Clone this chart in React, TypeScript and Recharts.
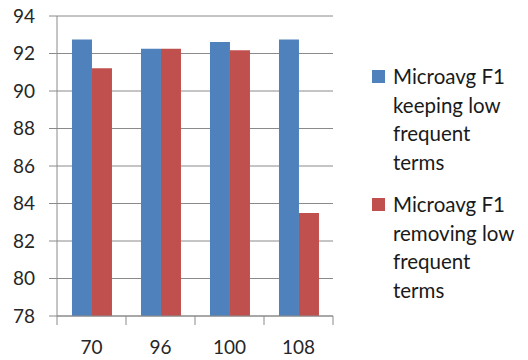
import { BarChart, Bar, XAxis, YAxis, CartesianGrid } from 'recharts';

const categories = ['70', '96', '100', '108'];
const keepingLow = [92.75, 92.25, 92.62, 92.75];
const removingLow = [91.22, 92.25, 92.18, 83.5];
const yTicks = [78, 80, 82, 84, 86, 88, 90, 92, 94];

const seriesNames = {
  keep: 'Microavg F1 keeping low frequent terms',
  remove: 'Microavg F1 removing low frequent terms',
};

const legendLines = {
  keep: ['Microavg F1', 'keeping low', 'frequent', 'terms'],
  remove: ['Microavg F1', 'removing low', 'frequent', 'terms'],
};

const data = categories.map((c, i) => ({
  name: c,
  keep: keepingLow[i],
  remove: removingLow[i],
}));

const WIDTH = 528;
const HEIGHT = 360;
const MARGIN = { top: 16, right: 195, bottom: 0, left: 0 };
const Y_AXIS_W = 57;
const X_AXIS_H = 44;
const BLUE = '#4F81BD';
const RED = '#C0504D';
const GRID = '#8a8a8a';
const FONT = 'Lato, "Open Sans", sans-serif';

const plotW = WIDTH - MARGIN.left - MARGIN.right - Y_AXIS_W;
const band = plotW / categories.length;

function CategoryTick(props: any) {
  const { x, y, payload, index } = props;
  return (
    <g>
      <line x1={x - band / 2} x2={x - band / 2} y1={y} y2={y + 9} stroke={GRID} />
      {index === categories.length - 1 && (
        <line x1={x + band / 2} x2={x + band / 2} y1={y} y2={y + 9} stroke={GRID} />
      )}
      <text x={x} y={y + 38} textAnchor="middle" fill="#262626" fontSize={19} fontFamily={FONT}>
        {payload.value}
      </text>
    </g>
  );
}

// legend drawn beside the plot, one entry per series
function LegendBlock() {
  const items = [
    { key: 'keep' as const, color: BLUE, top: 62, title: seriesNames.keep },
    { key: 'remove' as const, color: RED, top: 190, title: seriesNames.remove },
  ];
  return (
    <div style={{ position: 'absolute', left: 372, top: 0, width: 160, height: 330 }}>
      {items.map((it) => (
        <div key={it.key} title={it.title} style={{ position: 'absolute', left: 0, top: it.top }}>
          <div
            style={{
              position: 'absolute',
              left: 0,
              top: 8,
              width: 13,
              height: 13,
              background: it.color,
            }}
          />
          <div
            style={{
              position: 'absolute',
              left: 21,
              top: 0,
              fontFamily: FONT,
              fontSize: 20.5,
              lineHeight: '28.5px',
              color: '#1a1a1a',
              whiteSpace: 'nowrap',
            }}
          >
            {legendLines[it.key].map((l) => (
              <div key={l}>{l}</div>
            ))}
          </div>
        </div>
      ))}
    </div>
  );
}

export default function App() {
  return (
    <div style={{ position: 'absolute', left: 0, top: 0, width: WIDTH, height: HEIGHT, background: '#fff' }}>
      <BarChart
        width={WIDTH}
        height={HEIGHT}
        data={data}
        margin={MARGIN}
        barCategoryGap="21.7%"
        barGap={0}
      >
        <CartesianGrid vertical={false} stroke={GRID} strokeWidth={1} />
        <XAxis
          dataKey="name"
          height={X_AXIS_H}
          tickLine={false}
          tickSize={0}
          tickMargin={0}
          axisLine={{ stroke: GRID }}
          tick={<CategoryTick />}
          interval={0}
        />
        <YAxis
          width={Y_AXIS_W}
          domain={[78, 94]}
          ticks={yTicks}
          interval={0}
          tickSize={8}
          tickMargin={14}
          axisLine={{ stroke: GRID }}
          tickLine={{ stroke: GRID }}
          tick={{ fill: '#262626', fontSize: 19, fontFamily: FONT }}
        />
        <Bar dataKey="keep" name={seriesNames.keep} fill={BLUE} isAnimationActive={false} />
        <Bar dataKey="remove" name={seriesNames.remove} fill={RED} isAnimationActive={false} />
      </BarChart>
      <LegendBlock />
    </div>
  );
}
